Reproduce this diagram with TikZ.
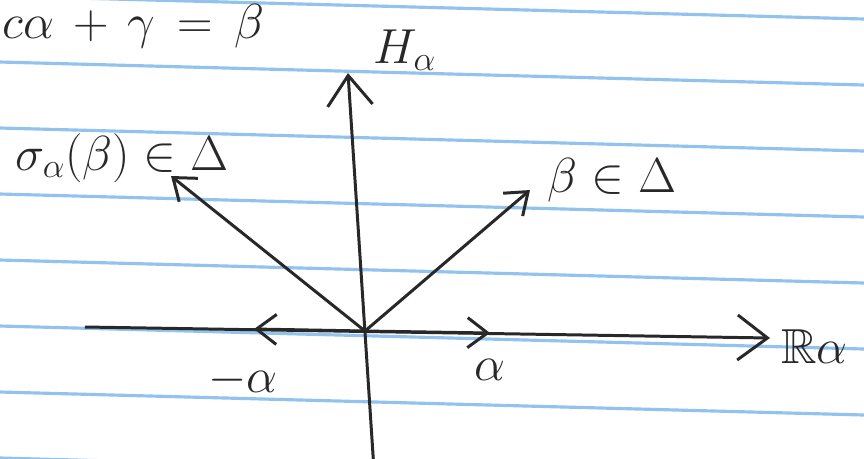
\RequirePackage{fix-cm}
\documentclass[tikz,border=0pt]{standalone}
\usepackage{amssymb}
\usetikzlibrary{arrows.meta}
\definecolor{ink}{RGB}{40,40,40}
\definecolor{ruled}{RGB}{145,195,238}
\tikzset{
  paper/.style={ruled, line width=1.8pt},
  vec/.style={-{Straight Barb[length=4mm,width=6mm]}, ink, line width=1.7pt},
  axis/.style={-{Straight Barb[length=6mm,width=9mm]}, ink, line width=1.7pt},
  lbl/.style={ink, font=\fontsize{28}{32}\selectfont}
}
\begin{document}
\begin{tikzpicture}[x=0.02cm, y=-0.02cm]
			\useasboundingbox (0,0) rectangle (864,458);
			\clip (0,0) rectangle (864,458);
			% ruled paper
			\foreach \k in {0,...,7}
				\draw[paper] (0,{-4+66*\k}) -- (864,{19+66*\k});
			% points
			\coordinate (O) at (365,331);
			\coordinate (bot) at (374,470);
			\coordinate (top) at (348,73);
			\coordinate (left) at (85,327);
			\coordinate (right) at (770,338);
			\coordinate (beta) at (530,190);
			\coordinate (sigma) at (171,176);
			\coordinate (al) at (490,333);
			\coordinate (mal) at (254,329);
			% labels
			\node[lbl, anchor=north west, inner sep=0pt] (eq) at (2,4) {$c\alpha\,+\,\gamma\,=\,\beta$};
			\node[lbl] (H) at (405,50) {$H_\alpha$};
			\node[lbl, anchor=west] (Ra) at (775,347) {$\mathbb{R}\alpha$};
			\node[lbl] (bl) at (612,180) {$\beta\in\Delta$};
			\node[lbl] (sl) at (122,158) {$\sigma_\alpha(\beta)\in\Delta$};
			\node[lbl] (ml) at (243,380) {$-\alpha$};
			\node[lbl] (pl) at (490,370) {$\alpha$};
			% axes
			\draw[axis] (bot) -- (top);
			\draw[axis] (left) -- (right);
			% roots
			\draw[vec] (O) -- (beta);
			\draw[vec] (O) -- (sigma);
			\draw[vec] (O) -- (al);
			\draw[vec] (O) -- (mal);
		\end{tikzpicture}
\end{document}
